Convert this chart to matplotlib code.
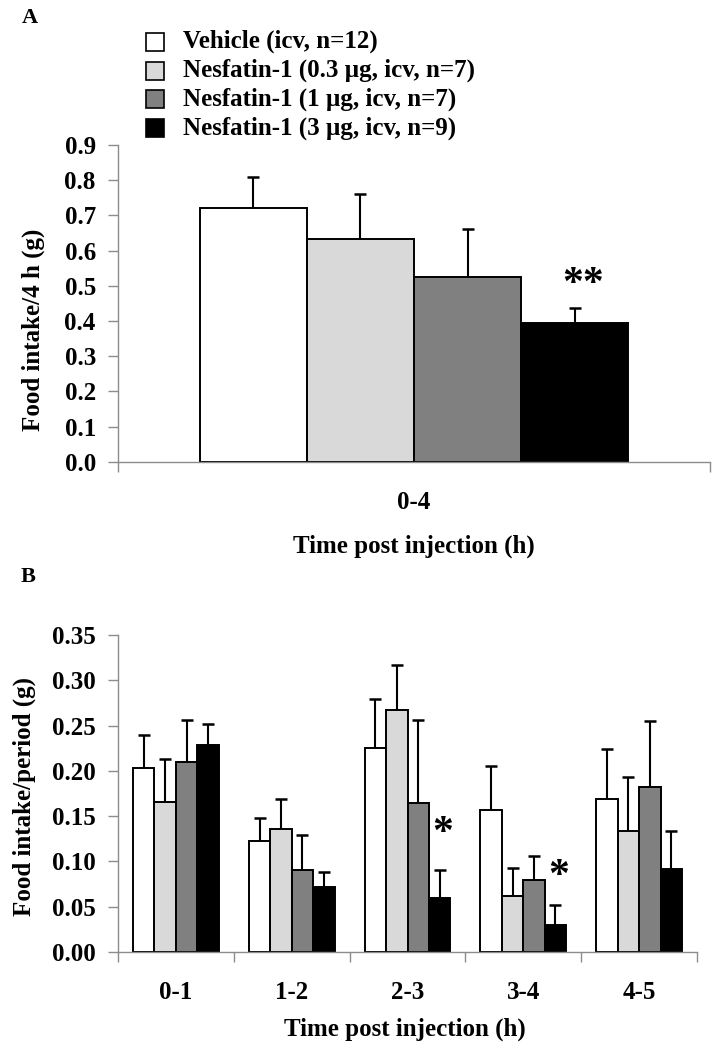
import numpy as np
import matplotlib
matplotlib.use("Agg")
import matplotlib.pyplot as plt
from matplotlib.patches import Rectangle

plt.rcParams['font.family'] = ['Liberation Serif', 'DejaVu Serif']
plt.rcParams['font.weight'] = 'bold'

# ---------------- data ----------------
groups = ["Vehicle (icv, n=12)", "Nesfatin-1 (0.3 \u00b5g, icv, n=7)",
          "Nesfatin-1 (1 \u00b5g, icv, n=7)", "Nesfatin-1 (3 \u00b5g, icv, n=9)"]
colors = ["white", "#d9d9d9", "#808080", "black"]

# panel A: cumulative 0-4 h
a_cat = ["0-4"]
a_mean = [0.722, 0.632, 0.526, 0.395]
a_sem = [0.086, 0.128, 0.136, 0.041]

# panel B: per period
b_cat = ["0-1", "1-2", "2-3", "3-4", "4-5"]
b_vehicle = [0.2035, 0.1225, 0.2255, 0.1567, 0.169]
b_nes03 = [0.1655, 0.136, 0.267, 0.0614, 0.134]
b_nes1 = [0.210, 0.091, 0.165, 0.0798, 0.182]
b_nes3 = [0.228, 0.0713, 0.060, 0.0294, 0.0916]
b_vehicle_sem = [0.0365, 0.025, 0.054, 0.049, 0.055]
b_nes03_sem = [0.048, 0.033, 0.050, 0.031, 0.059]
b_nes1_sem = [0.046, 0.038, 0.091, 0.026, 0.073]
b_nes3_sem = [0.024, 0.017, 0.030, 0.023, 0.042]
# significance marks (period index, y value)
b_stars = [(2, 0.130), (3, 0.083)]
a_star_y = 0.502

W, H = 725, 1050
fig = plt.figure(figsize=(W / 100, H / 100), dpi=100)

FS = 18
spine_col = "#8c8c8c"


def style_axes(ax):
    for s in ("top", "right"):
        ax.spines[s].set_visible(False)
    for s in ("left", "bottom"):
        ax.spines[s].set_color(spine_col)
        ax.spines[s].set_linewidth(1.0)
    ax.tick_params(axis="y", direction="out", length=7, width=1.0, color=spine_col,
                   labelsize=FS, pad=9)
    ax.tick_params(axis="x", which="major", length=0, labelsize=FS, pad=21)
    ax.tick_params(axis="x", which="minor", direction="out", length=7, width=1.0,
                   color=spine_col)


def draw_bars(ax, x, means, sems, w):
    n = len(means)
    for i, (m, s) in enumerate(zip(means, sems)):
        xs = np.asarray(x) + (i - (n - 1) / 2) * w
        m = np.asarray(m)
        s = np.asarray(s)
        ax.bar(xs, m, width=w, color=colors[i], edgecolor="black",
               linewidth=1.4, zorder=2)
        # upper error only, cap on top
        ax.vlines(xs, m, m + s, color="black", linewidth=1.5, zorder=3)
        ax.plot(xs, m + s, ls="none", marker="_", ms=8, mew=1.8, color="black", zorder=3)


# ---------------- panel A ----------------
axA = fig.add_axes([118 / W, 1 - 461.7 / H, 592 / W, 316.7 / H])
wA = 0.181
xA = np.arange(len(a_cat))
draw_bars(axA, xA, [[v] for v in a_mean], [[v] for v in a_sem], wA)
axA.set_xlim(-0.5, 0.5)
axA.set_ylim(0, 0.9)
axA.set_yticks(np.arange(0, 0.91, 0.1))
axA.set_yticklabels([f"{v:.1f}" for v in np.arange(0, 0.91, 0.1)])
axA.set_xticks(xA)
axA.set_xticklabels(a_cat)
axA.set_xticks([-0.5, 0.5], minor=True)
style_axes(axA)
axA.set_ylabel("Food intake/4 h (g)", fontsize=FS, fontweight="bold")
axA.yaxis.set_label_coords(-0.123, 0.416)
axA.set_xlabel("Time post injection (h)", fontsize=FS, fontweight="bold")
axA.xaxis.set_label_coords(0.5, -0.231)
axA.text(xA[0] + 1.5 * wA + 0.014, a_star_y, "**", fontsize=30, ha="center",
         va="center", fontweight="bold")

# ---------------- panel B ----------------
axB = fig.add_axes([118 / W, 1 - 952 / H, 579 / W, 317 / H])
wB = 0.185
xB = np.arange(len(b_cat))
draw_bars(axB, xB, [b_vehicle, b_nes03, b_nes1, b_nes3],
          [b_vehicle_sem, b_nes03_sem, b_nes1_sem, b_nes3_sem], wB)
axB.set_xlim(-0.5, len(b_cat) - 0.5)
axB.set_ylim(0, 0.35)
axB.set_yticks(np.arange(0, 0.351, 0.05))
axB.set_yticklabels([f"{v:.2f}" for v in np.arange(0, 0.351, 0.05)])
axB.set_xticks(xB)
axB.set_xticklabels(b_cat)
axB.set_xticks(np.arange(-0.5, len(b_cat), 1.0), minor=True)
style_axes(axB)
axB.set_ylabel("Food intake/period (g)", fontsize=FS, fontweight="bold")
axB.yaxis.set_label_coords(-0.142, 0.49)
axB.set_xlabel("Time post injection (h)", fontsize=FS, fontweight="bold")
axB.xaxis.set_label_coords(0.495, -0.208)
for gi, yv in b_stars:
    axB.text(xB[gi] + 1.5 * wB + 0.03, yv, "*", fontsize=30, ha="center",
             va="center", fontweight="bold")

# ---------------- legend ----------------
row_y = [41.7, 70.5, 99.3, 128.3]
for lab, col, yy in zip(groups, colors, row_y):
    fig.patches.append(Rectangle((146 / W, 1 - (yy + 9) / H), 18 / W, 18 / H,
                                 transform=fig.transFigure, facecolor=col,
                                 edgecolor="black", linewidth=1.2))
    fig.text(183 / W, 1 - yy / H, lab, fontsize=FS, fontweight="bold", va="center")

# panel letters
fig.text(30 / W, 1 - 18 / H, "A", fontsize=16, fontweight="bold", ha="center", va="center")
fig.text(28 / W, 1 - 577 / H, "B", fontsize=16, fontweight="bold", ha="center", va="center")

fig.savefig("out.png", dpi=100)
